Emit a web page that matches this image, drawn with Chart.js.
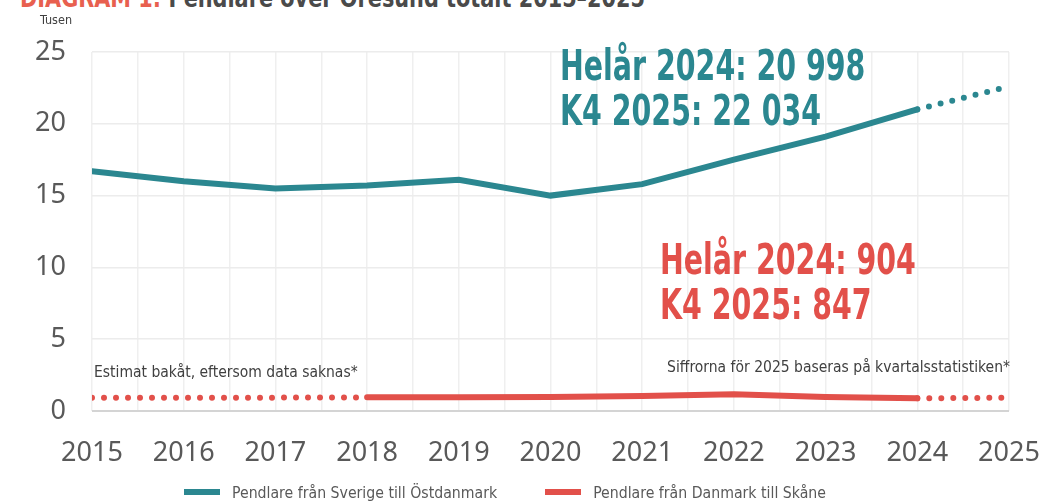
<!DOCTYPE html>
<html>
<head>
<meta charset="utf-8">
<script src="https://cdn.jsdelivr.net/npm/chart.js@4.4.1/dist/chart.umd.min.js"></script>
<style>
html, body { margin: 0; padding: 0; background: #fff; overflow: hidden; }
#wrap { position: relative; width: 1040px; height: 501px; }
#title { position: absolute; left: 20px; top: -17px; white-space: nowrap; color: #4a4a4a;
  font: bold 26px 'DejaVu Sans Condensed', sans-serif; transform: scaleX(0.89); transform-origin: 0 0; }
#title span { color: #e8604f; }
canvas { position: absolute; left: 0; top: 0; }
#legend { position: absolute; left: 184px; top: 482px; height: 20px; display: flex; align-items: center;
  font: 15.7px 'DejaVu Sans Condensed', sans-serif; color: #595959; white-space: nowrap; }
#legend .box { display: inline-block; width: 36px; height: 6px; margin-right: 12px; }
#legend .item { display: flex; align-items: center; margin-right: 48px; }
</style>
</head>
<body>
<div id="wrap">
  <div id="title"><span>DIAGRAM 1:</span> Pendlare över Öresund totalt 2015–2025</div>
  <canvas id="pendlareChart" width="1040" height="501"></canvas>
  <div id="legend"></div>
</div>
<script>
// data, tusental pendlare
var years = [2015, 2016, 2017, 2018, 2019, 2020, 2021, 2022, 2023, 2024, 2025];
var sverigeTillOstdanmark = [16.7, 16.0, 15.5, 15.7, 16.1, 15.0, 15.8, 17.5, 19.1, 21.0, 22.6];
var danmarkTillSkane = [0.93, 0.93, 0.93, 0.95, 0.96, 0.98, 1.05, 1.17, 0.98, 0.88, 0.93];
// år där segmentet (till nästa år) är uppskattat -> prickat
var sverigeEstimatAr = [2024];
var danmarkEstimatAr = [2015, 2016, 2017, 2024];
var yTicks = [0, 5, 10, 15, 20, 25];

var teal = '#2b8790';
var red = '#e2504a';
var narrow = "'DejaVu Sans Condensed', sans-serif";

function toPoints(values) {
    return years.map(function (y, i) { return { x: y, y: values[i] }; });
}

function dotted(estimatAr) {
    return function (ctx) {
        return estimatAr.indexOf(ctx.p0.parsed.x) >= 0 ? [0, 12] : undefined;
    };
}

// smal text: trycker ihop fonten horisontellt
function narrowText(c, text, x, y, sx) {
    c.save();
    c.translate(x, y);
    c.scale(sx, 1);
    c.fillText(text, 0, 0);
    c.restore();
}

// texter inne i diagrammet
var textPlugin = {
    id: 'texter',
    afterDraw: function (chart) {
        var c = chart.ctx;
        c.save();
        c.textBaseline = 'alphabetic';
        c.textAlign = 'left';
        c.font = 'bold 42px ' + narrow;
        c.fillStyle = teal;
        narrowText(c, 'Helår 2024: 20 998', 560, 80, 0.753);
        narrowText(c, 'K4 2025: 22 034', 560, 125, 0.753);
        c.fillStyle = red;
        narrowText(c, 'Helår 2024: 904', 660, 274, 0.753);
        narrowText(c, 'K4 2025: 847', 660, 319, 0.753);

        c.font = '15.5px ' + narrow;
        c.fillStyle = '#404040';
        c.fillText('Estimat bakåt, eftersom data saknas*', 94, 377);
        c.textAlign = 'right';
        c.fillText('Siffrorna för 2025 baseras på kvartalsstatistiken*', 1010, 372);
        c.textAlign = 'left';
        c.font = '12.5px ' + narrow;
        c.fillText('Tusen', 40, 24);
        c.restore();
    }
};

var ctx = document.getElementById('pendlareChart').getContext('2d');
var pendlareChart = new Chart(ctx, {
    type: 'line',
    data: {
        datasets: [{
            label: 'Pendlare från Sverige till Östdanmark',
            data: toPoints(sverigeTillOstdanmark),
            borderColor: teal,
            backgroundColor: teal,
            borderWidth: 6,
            borderCapStyle: 'round',
            pointRadius: 0,
            tension: 0,
            segment: { borderDash: dotted(sverigeEstimatAr) }
        }, {
            label: 'Pendlare från Danmark till Skåne',
            data: toPoints(danmarkTillSkane),
            borderColor: red,
            backgroundColor: red,
            borderWidth: 6,
            borderCapStyle: 'round',
            pointRadius: 0,
            tension: 0,
            segment: { borderDash: dotted(danmarkEstimatAr) }
        }]
    },
    options: {
        responsive: false,
        animation: false,
        layout: { padding: { top: 52, right: 0, bottom: 0, left: 0 } },
        plugins: {
            legend: { display: false },
            tooltip: { enabled: false }
        },
        scales: {
            x: {
                type: 'linear',
                min: 2015,
                max: 2025,
                afterFit: function (scale) {
                    scale.height = 90;
                    scale.paddingLeft = 0;
                    scale.paddingRight = 31;
                },
                border: { display: false },
                grid: { color: '#efefef', lineWidth: 1.5, drawTicks: false },
                ticks: {
                    stepSize: 0.5,
                    maxTicksLimit: 30,
                    autoSkip: false,
                    maxRotation: 0,
                    minRotation: 0,
                    padding: 26,
                    color: '#595959',
                    font: { family: 'Noto Sans', size: 27 },
                    callback: function (v) { return Number.isInteger(v) ? String(v) : ''; }
                }
            },
            y: {
                min: 0,
                max: 25,
                afterFit: function (scale) { scale.width = 92; },
                afterBuildTicks: function (scale) {
                    scale.ticks = yTicks.map(function (v) { return { value: v }; });
                },
                border: { display: false },
                grid: {
                    drawTicks: false,
                    lineWidth: function (c) { return c.tick.value === 0 ? 2 : 1.5; },
                    color: function (c) { return c.tick.value === 0 ? '#d4d4d4' : '#ececec'; }
                },
                ticks: {
                    padding: 26,
                    color: '#595959',
                    font: { family: 'Noto Sans', size: 27 }
                }
            }
        }
    },
    plugins: [textPlugin]
});

// förklaring under diagrammet
var legend = document.getElementById('legend');
pendlareChart.data.datasets.forEach(function (ds) {
    var item = document.createElement('span');
    item.className = 'item';
    item.innerHTML = '<span class="box" style="background:' + ds.borderColor + '"></span>' + ds.label;
    legend.appendChild(item);
});
</script>
</body>
</html>
